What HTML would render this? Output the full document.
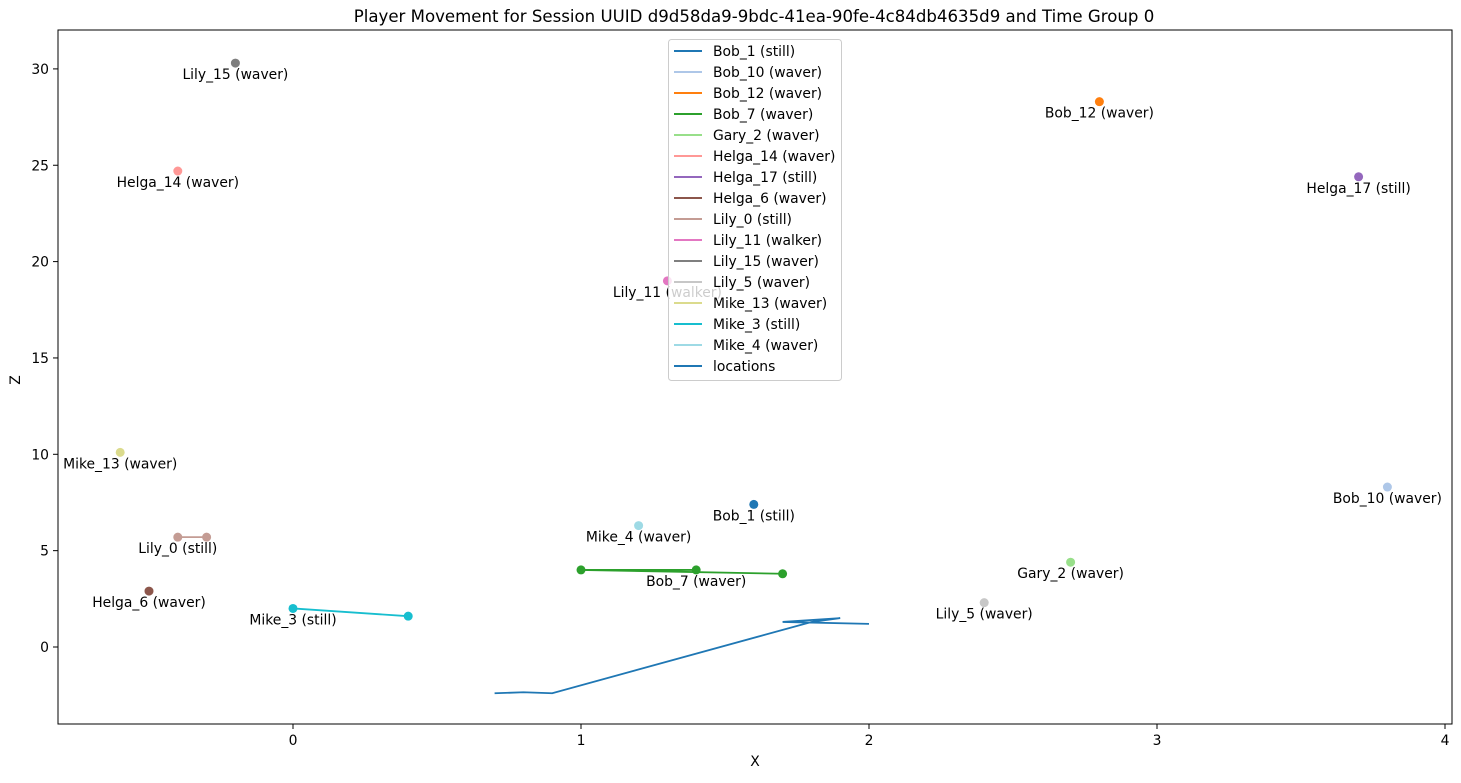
<!DOCTYPE html>
<html><head><meta charset="utf-8"><style>
body{margin:0;background:#fff;}
text{font-family:"DejaVu Sans","Liberation Sans",sans-serif;}
</style></head><body>
<svg id="chart" width="1461" height="778" xmlns="http://www.w3.org/2000/svg">
<rect width="1461" height="778" fill="#fff"/>
<text x="754" y="22" font-size="16.6" text-anchor="middle">Player Movement for Session UUID d9d58da9-9bdc-41ea-90fe-4c84db4635d9 and Time Group 0</text>
<g id="plot"></g>
<rect x="58" y="30" width="1394" height="694" fill="none" stroke="#000" stroke-width="1"/>
<g id="axes"></g>
<text x="755" y="766" font-size="13.9" text-anchor="middle">X</text>
<text x="20" y="380" font-size="13.9" text-anchor="middle" transform="rotate(-90 20 380)">Z</text>
<g id="legend"></g>
</svg>
<script>
const players = ["Bob_1 (still)","Bob_10 (waver)","Bob_12 (waver)","Bob_7 (waver)","Gary_2 (waver)","Helga_14 (waver)","Helga_17 (still)","Helga_6 (waver)","Lily_0 (still)","Lily_11 (walker)","Lily_15 (waver)","Lily_5 (waver)","Mike_13 (waver)","Mike_3 (still)","Mike_4 (waver)"];
const colors = ["#1f77b4","#aec7e8","#ff7f0e","#2ca02c","#98df8a","#ff9896","#9467bd","#8c564b","#c49c94","#e377c2","#7f7f7f","#c7c7c7","#dbdb8d","#17becf","#9edae5"];
const playerX = [[1.6],[3.8],[2.8],[1.4,1.0,1.7],[2.7],[-0.4],[3.7],[-0.5],[-0.4,-0.3],[1.3],[-0.2],[2.4],[-0.6],[0.0,0.4],[1.2]];
const playerZ = [[7.4],[8.3],[28.3],[4.0,4.0,3.8],[4.4],[24.7],[24.4],[2.9],[5.7,5.7],[19.0],[30.3],[2.3],[10.1],[2.0,1.6],[6.3]];
const locX = [0.7,0.8,0.9,1.8,1.9,1.7,2.0];
const locZ = [-2.4,-2.35,-2.4,1.3,1.5,1.3,1.2];
const xTicks = [0,1,2,3,4];
const yTicks = [0,5,10,15,20,25,30];

const NS="http://www.w3.org/2000/svg";
const FS=13.9;
const sx = v => 293 + 288*v;
const sy = v => 647 - 19.27*v;
function mk(tag, attrs, parent){const e=document.createElementNS(NS,tag);for(const k in attrs)e.setAttribute(k,attrs[k]);parent.appendChild(e);return e;}
const plot=document.getElementById('plot'), axes=document.getElementById('axes'), legend=document.getElementById('legend');

xTicks.forEach(t=>{
  const l=mk('line',{x1:sx(t),x2:sx(t),y1:724,y2:729,stroke:'#000'},axes);
  
  
  const tx=mk('text',{x:sx(t),y:745,'font-size':FS,'text-anchor':'middle'},axes);
  tx.textContent=t;
  
  
});
yTicks.forEach(t=>{
  const l=mk('line',{x1:53,x2:58,y1:sy(t),y2:sy(t),stroke:'#000'},axes);
  
  
  const tx=mk('text',{x:49,y:sy(t)+5,'font-size':FS,'text-anchor':'end'},axes);
  tx.textContent=t;
  
  
});

const lp=mk('polyline',{points:locX.map((x,i)=>sx(x)+','+sy(locZ[i])).join(' '),fill:'none',stroke:'#1f77b4','stroke-width':1.8},plot);



players.forEach((p,i)=>{
  const xs=playerX[i], zs=playerZ[i];
  if(xs.length>1){
    const pl=mk('polyline',{points:xs.map((x,j)=>sx(x)+','+sy(zs[j])).join(' '),fill:'none',stroke:colors[i],'stroke-width':1.8},plot);
    
    
  }
  xs.forEach((x,j)=>{
    const c=mk('circle',{cx:sx(x),cy:sy(zs[j]),r:4.5,fill:colors[i]},plot);
    
    
  });
  const t=mk('text',{x:sx(xs[0]),y:sy(zs[0])+16,'font-size':FS,'text-anchor':'middle'},plot);
  t.textContent=p;
  
  
});

const lb=mk('rect',{x:668.5,y:39.5,width:173,height:341,rx:3,fill:'#fff','fill-opacity':0.8,stroke:'#ccc'},legend);


const entries=players.concat(['locations']);
const ecol=colors.concat(['#1f77b4']);
entries.forEach((e,i)=>{
  const y=51+21*i;
  const g=mk('g',{},legend);
  
  
  mk('line',{x1:674,x2:702,y1:y,y2:y,stroke:ecol[i],'stroke-width':2},g);
  const t=mk('text',{x:713,y:y+5,'font-size':FS},g);
  t.textContent=e;
});
</script>
</body></html>
